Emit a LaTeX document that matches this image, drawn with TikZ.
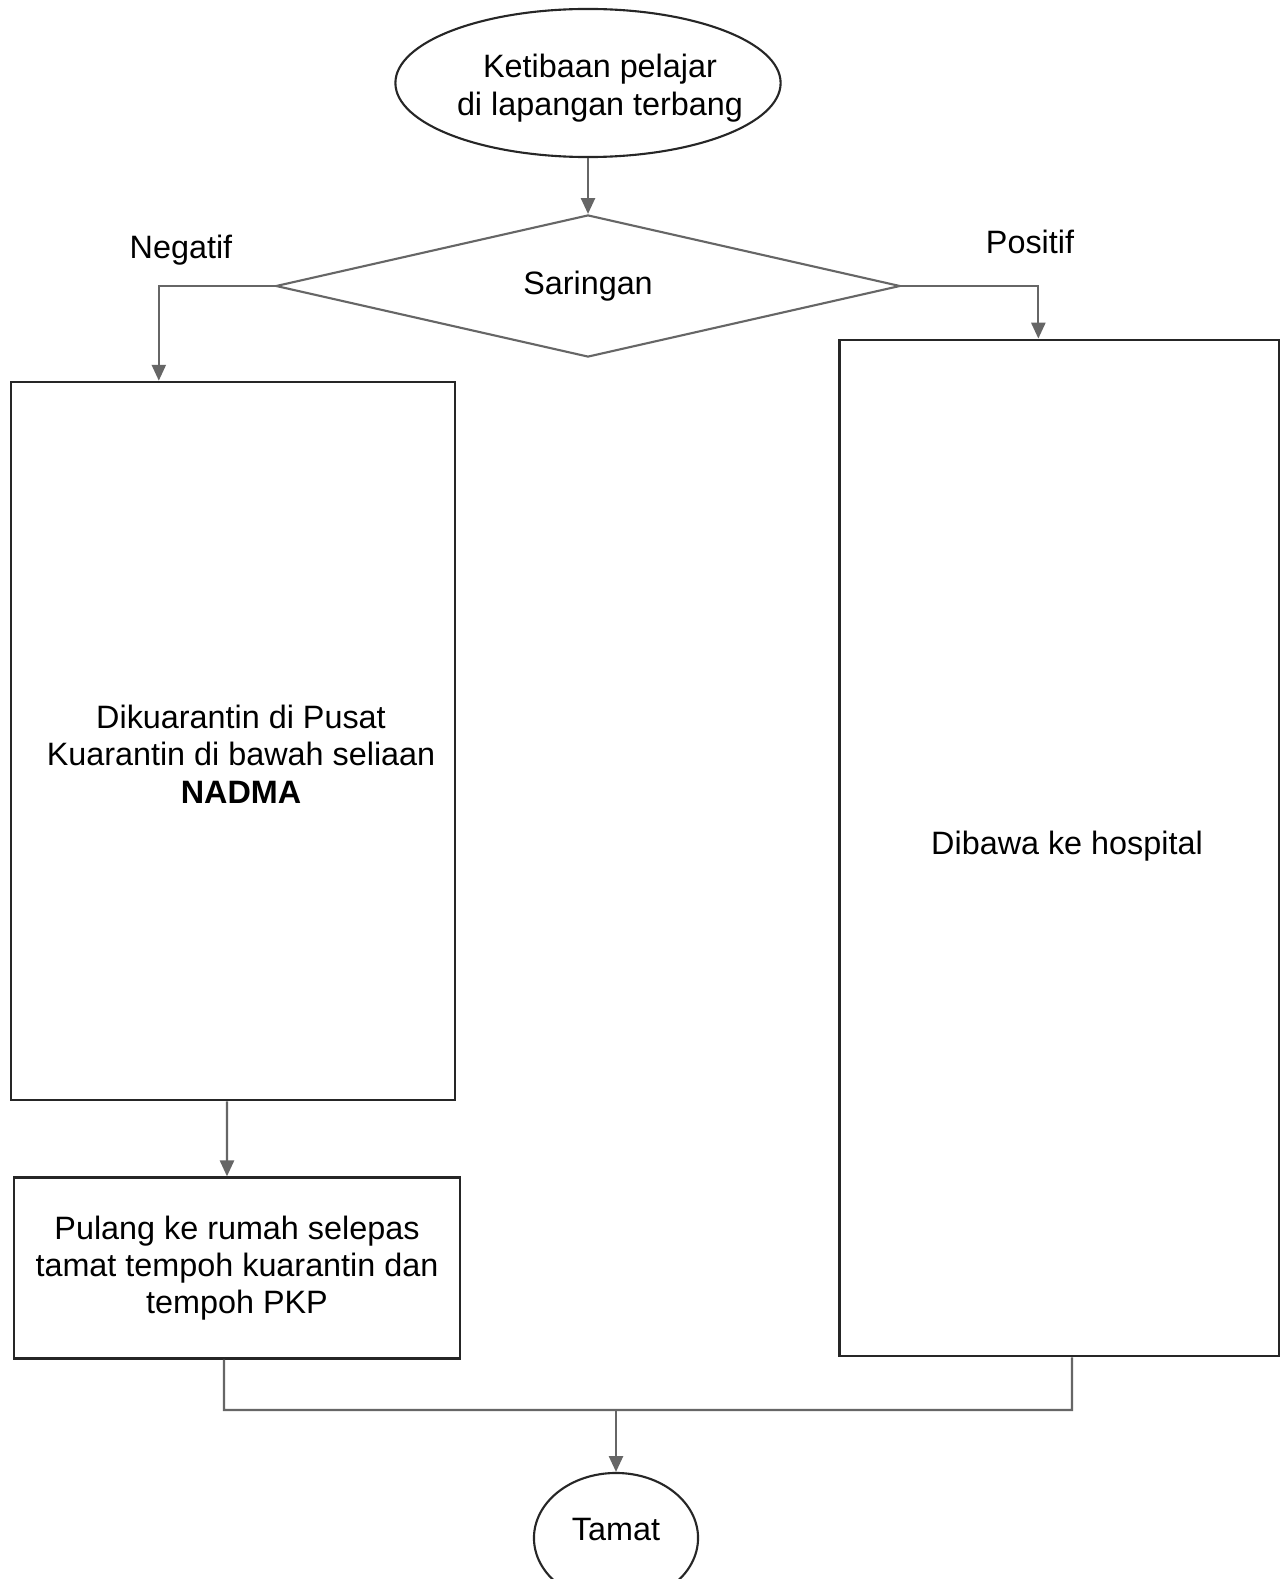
\documentclass[tikz,border=0pt]{standalone}
\usepackage{fontspec}
\setmainfont{Liberation Sans}
\usetikzlibrary{shapes.geometric,arrows.meta,calc}
\begin{document}
\begin{tikzpicture}[x=0.01cm,y=-0.01cm,
  font=\fontsize{9.2}{10.6}\selectfont,
  box/.style={draw=black!85, line width=0.65pt, rectangle, inner sep=0pt},
  oval/.style={draw=black!85, line width=0.6pt, ellipse, inner sep=0pt},
  dec/.style={draw=black!60, line width=0.6pt, diamond, inner sep=0pt},
  conn/.style={draw=black!60, line width=0.6pt, -{Triangle[width=4pt,length=4.5pt]}},
  link/.style={draw=black!60, line width=0.6pt},
  txt/.style={align=center, inner sep=0pt}]
\clip (0,0) rectangle (1287,1579);
\fill[white] (0,0) rectangle (1287,1579);

\node[oval, minimum width=3.85cm, minimum height=1.48cm,
  label={[txt, xshift=0.12cm, yshift=-0.05cm]center:Ketibaan pelajar\\di lapangan terbang}] (start) at (588,83) {};
\node[dec, minimum width=6.24cm, minimum height=1.42cm,
  label={[txt]center:Saringan}] (dia) at (588,286) {};
\node[txt] (neg) at (181,250) {Negatif};
\node[txt] (pos) at (1030,242) {Positif};

\node[box, minimum width=4.44cm, minimum height=7.18cm,
  label={[txt, xshift=0.08cm, yshift=-0.13cm]center:Dikuarantin di Pusat\\Kuarantin di bawah seliaan\\\textbf{NADMA}}] (lbox) at (233,741) {};
\node[box, minimum width=4.46cm, minimum height=1.81cm, align=center] (pbox) at (237,1268)
  {Pulang ke rumah selepas\\tamat tempoh kuarantin dan\\tempoh PKP};
\node[box, minimum width=4.39cm, minimum height=10.16cm,
  label={[txt, xshift=0.08cm, yshift=0.02cm]center:Dibawa ke hospital}] (rbox) at (1059,848) {};
\node[oval, minimum width=1.64cm, minimum height=1.3cm,
  label={[txt, yshift=0.08cm]center:Tamat}] (end) at (616,1538) {};

\draw[conn] (start.south) -- (dia.north);
\draw[conn] (dia.west) -| ([xshift=1.49cm]lbox.north west);
\draw[conn] (dia.east) -| ([xshift=2.0cm]rbox.north west);
\draw[conn] ([xshift=-0.06cm]lbox.south) -- ([xshift=-0.10cm]pbox.north);

\coordinate (jl) at (224,1410);
\coordinate (jr) at (1072,1410);
\coordinate (join) at (616,1410);
\draw[link] ([xshift=-0.13cm]pbox.south) -- (jl) -- (jr) -- ([xshift=0.13cm]rbox.south);
\draw[conn] (join) -- (end.north);
\end{tikzpicture}
\end{document}
